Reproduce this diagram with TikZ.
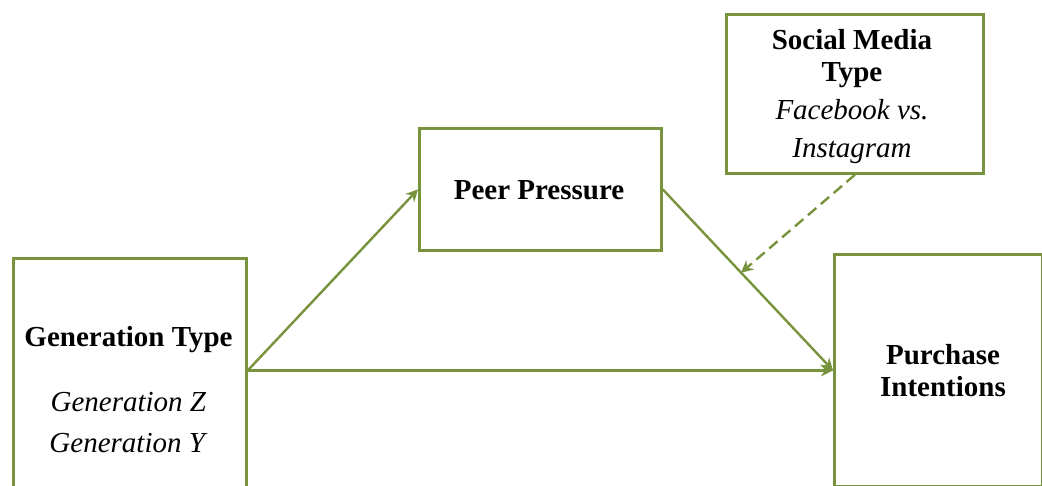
\documentclass[tikz,border=0pt]{standalone}
\usepackage{fontspec}
\setmainfont{Liberation Serif}
\usetikzlibrary{arrows.meta,calc}
\definecolor{olivegreen}{HTML}{77933C}
\begin{document}
\begin{tikzpicture}[x=1pt,y=-1pt,
  box/.style={draw=olivegreen,line width=2.8pt,fill=white,inner sep=0pt,anchor=north west},
  lbl/.style={inner sep=0pt,anchor=base},
  link/.style={draw=olivegreen,line width=2.4pt,-{Stealth[length=12pt,width=12pt,inset=4pt]}},
  modlink/.style={link,dash pattern=on 11pt off 6pt}
]
\useasboundingbox (0,0) rectangle (1042,486);
\node[box,minimum width=233pt,minimum height=236pt] (gen) at (12,257) {};
\node[box,minimum width=242pt,minimum height=122pt] (peer) at (418,127) {};
\node[box,minimum width=257pt,minimum height=159pt] (social) at (725,13) {};
\node[box,minimum width=208pt,minimum height=232pt] (purch) at (833,253) {};

\node[lbl,font=\fontsize{29}{41}\selectfont] (gentext) at (128.5,347)
  {\begin{tabular}[t]{@{}c@{}}\textbf{Generation Type}\\[24pt]\textit{Generation Z}\\\textit{Generation Y}\end{tabular}};
\node[lbl,font=\fontsize{29}{32}\selectfont] (peertext) at (539,200) {\textbf{Peer Pressure}};
\node[lbl,font=\fontsize{29}{38}\selectfont] (socialtext) at (852,50)
  {\begin{tabular}[t]{@{}c@{}}\textbf{Social Media}\\[-6pt]\textbf{Type}\\\textit{Facebook vs.}\\\textit{Instagram}\end{tabular}};
\node[lbl,font=\fontsize{29}{32}\selectfont] (purchtext) at (943,365)
  {\begin{tabular}[t]{@{}c@{}}\textbf{Purchase}\\\textbf{Intentions}\end{tabular}};

\coordinate (gs) at (gen.east |- purch.west);
\draw[link] (gs) -- (peer.west);
\draw[link] (gs) -- (purch.west);
\draw[link] (peer.east) -- (purch.west);
\coordinate (m) at ($(peer.east)!0.46!(purch.west)$);
\draw[modlink] (social.south) -- (m);
\end{tikzpicture}
\end{document}
